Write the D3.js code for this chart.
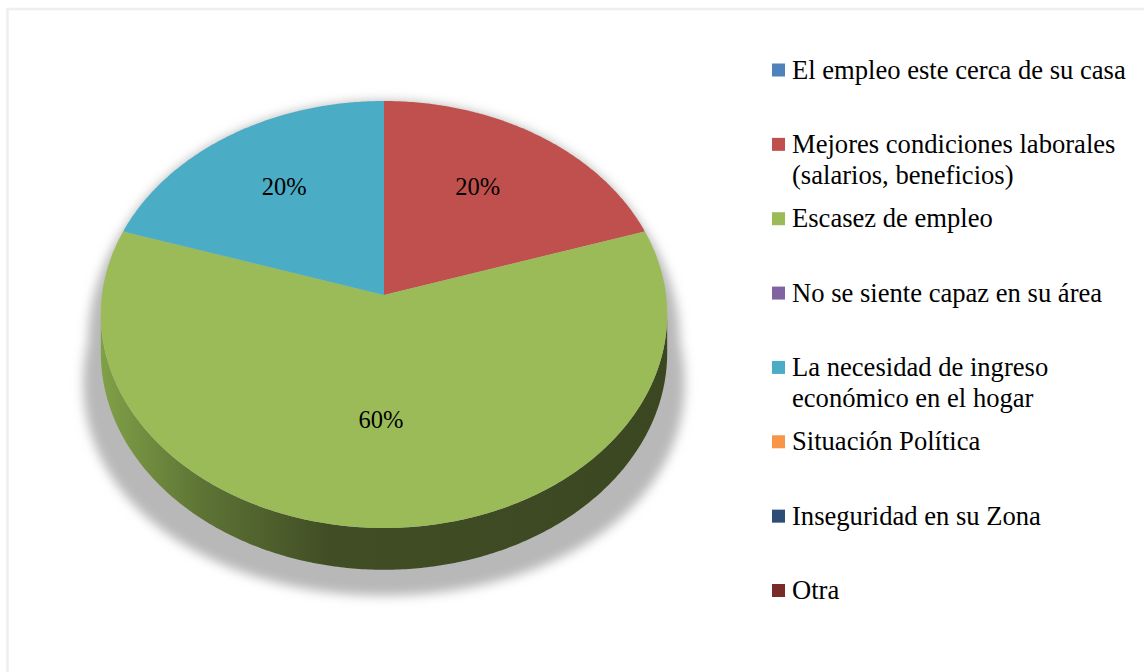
<!DOCTYPE html>
<html>
<head>
<meta charset="utf-8">
<script src="https://cdn.jsdelivr.net/npm/d3@7"></script>
<style>
    html, body { margin: 0; padding: 0; background: #fff; }
    svg { display: block; }
    text { font-family: "Liberation Serif", "Times New Roman", Times, serif; }
</style>
</head>
<body>
<svg id="chart" width="1144" height="672"></svg>
<script>
"use strict";

const categories = [
    "El empleo este cerca de su casa",
    "Mejores condiciones laborales (salarios, beneficios)",
    "Escasez de empleo",
    "No se siente capaz en su área",
    "La necesidad de ingreso económico en el hogar",
    "Situación Política",
    "Inseguridad en su Zona",
    "Otra",
];
const values = [0, 20, 60, 0, 20, 0, 0, 0];
const colors = ["#4f81bd", "#c0504d", "#9bbb59", "#8064a2", "#4bacc6", "#f79646", "#2c4d75", "#772c2a"];

// pie geometry (3d look with a little perspective)
const cx = 384, cy = 295;
const rx = 282, ry = 211.7;
const persp = 0.0913;
const depth = 38;

const svg = d3.select("#chart");
const defs = svg.append("defs");

// chart frame
svg.append("rect")
    .attr("x", 7.5).attr("y", 9)
    .attr("width", 1300).attr("height", 800)
    .attr("fill", "#fff")
    .attr("stroke", "#eeeeee")
    .attr("stroke-width", 2.5);

function project(a, r, d) {
    const X = r * Math.sin(a);
    const Z = -r * Math.cos(a);
    const s = 1 / (1 - persp * Z);
    return [cx + rx * X * s, cy + (ry * Z + d) * s];
}

function arcPoints(a0, a1, r, d) {
    const n = Math.max(2, Math.ceil(Math.abs(a1 - a0) / 0.01));
    return d3.range(n + 1).map(i => project(a0 + (a1 - a0) * i / n, r, d));
}

const line = d3.line().curve(d3.curveLinear);

const pie = d3.pie().sort(null).value(d => d.value);
const arcs = pie(categories.map((c, i) => ({name: c, value: values[i], color: colors[i]})));
const total = d3.sum(values);

// shadow
const blur = defs.append("filter").attr("id", "shadowBlur")
    .attr("x", "-20%").attr("y", "-20%").attr("width", "140%").attr("height", "140%");
blur.append("feGaussianBlur").attr("stdDeviation", 5.5);

function stretch([x, y]) {
    const t = Math.max(0, (y - 225) / 200);
    return [cx + (x - cx) * (1 + 0.09 * t), y + 26 * Math.max(0, (y - 240) / 330)];
}
const shadow = svg.append("g").attr("filter", "url(#shadowBlur)");
[0, depth].forEach(d => {
    shadow.append("path")
        .attr("d", line(arcPoints(0, 2 * Math.PI, 1, d).map(stretch)) + "Z")
        .attr("fill", "#b8b8b8");
});

// side wall, only the front half shows
const side = defs.append("linearGradient").attr("id", "sideGrad")
    .attr("gradientUnits", "userSpaceOnUse")
    .attr("x1", cx - rx).attr("x2", cx + rx).attr("y1", 0).attr("y2", 0);
[[0, "#80a047"], [0.18, "#5d7335"], [0.4, "#414e25"], [1, "#3b4721"]].forEach(([o, c]) => {
    side.append("stop").attr("offset", o).attr("stop-color", c);
});

const aRight = Math.acos(-persp);
const aLeft = 2 * Math.PI - aRight;

arcs.filter(d => d.value > 0).forEach(d => {
    const lo = Math.max(d.startAngle, aRight);
    const hi = Math.min(d.endAngle, aLeft);
    if (lo >= hi) return;
    const pts = arcPoints(lo, hi, 1, 0).concat(arcPoints(hi, lo, 1, depth));
    svg.append("path")
        .attr("d", line(pts) + "Z")
        .attr("fill", d.data.color === "#9bbb59" ? "url(#sideGrad)" : d3.color(d.data.color).darker(1.3));
});

// top face
svg.append("g").selectAll("path")
    .data(arcs.filter(d => d.value > 0))
    .join("path")
    .attr("d", d => line([project(0, 0, 0)].concat(arcPoints(d.startAngle, d.endAngle, 1, 0))) + "Z")
    .attr("fill", d => d.data.color);

// data labels
svg.append("g").selectAll("text")
    .data(arcs.filter(d => d.value > 0))
    .join("text")
    .attr("x", d => project((d.startAngle + d.endAngle) / 2, 0.61, 0)[0] - 3)
    .attr("y", d => project((d.startAngle + d.endAngle) / 2, 0.6, 0)[1] - 10)
    .attr("text-anchor", "middle")
    .attr("dominant-baseline", "central")
    .attr("font-size", 24.5)
    .attr("fill", "#000")
    .text(d => Math.round(d.value / total * 100) + "%");

// legend
const legendY = d3.scalePoint().domain(categories).range([70, 590.5]);
const legend = svg.append("g");

function wrap(textSel, width) {
    textSel.each(function () {
        const text = d3.select(this);
        const words = text.text().split(" ");
        const x = text.attr("x");
        text.text(null);
        let lineWords = [];
        let tspan = text.append("tspan").attr("x", x);
        for (const w of words) {
            lineWords.push(w);
            tspan.text(lineWords.join(" "));
            if (tspan.node().getComputedTextLength() > width && lineWords.length > 1) {
                lineWords.pop();
                tspan.text(lineWords.join(" "));
                lineWords = [w];
                tspan = text.append("tspan").attr("x", x).attr("dy", "1.17em").text(w);
            }
        }
    });
}

const items = legend.selectAll("g")
    .data(categories)
    .join("g");

items.append("rect")
    .attr("x", 772)
    .attr("y", d => legendY(d) - 6.5)
    .attr("width", 13)
    .attr("height", 13)
    .attr("fill", (d, i) => colors[i]);

items.append("text")
    .attr("x", 792)
    .attr("y", d => legendY(d) + 8.5)
    .attr("font-size", 26.6)
    .attr("fill", "#000")
    .text(d => d)
    .call(wrap, 350);
</script>
</body>
</html>
